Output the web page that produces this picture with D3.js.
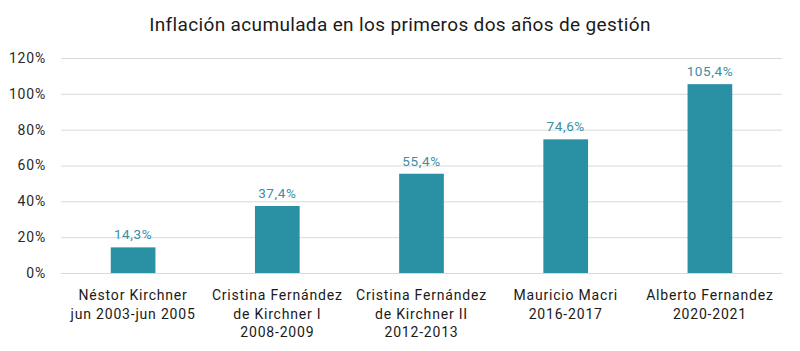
<!DOCTYPE html>
<html><head><meta charset="utf-8">
<script src="https://cdn.jsdelivr.net/npm/d3@7"></script>
<style>body{margin:0;background:#fff;} text{font-family:Roboto, "Liberation Sans", sans-serif;}</style>
</head><body><svg id="c" width="800" height="351"></svg>
<script>
const categories = [
  ["Néstor Kirchner", "jun 2003-jun 2005"],
  ["Cristina Fernández", "de Kirchner I", "2008-2009"],
  ["Cristina Fernández", "de Kirchner II", "2012-2013"],
  ["Mauricio Macri", "2016-2017"],
  ["Alberto Fernandez", "2020-2021"]
];
const values = [14.3, 37.4, 55.4, 74.6, 105.4];
const yTicks = [0, 20, 40, 60, 80, 100, 120];
const title = "Inflación acumulada en los primeros dos años de gestión";

const svg = d3.select("#c");
const m = {left: 61, right: 18, top: 58, bottom: 78};
const W = 800, H = 351;
const x = d3.scaleBand().domain(d3.range(values.length)).range([m.left, W - m.right]).paddingInner(0.69).paddingOuter(0.345);
const y = d3.scaleLinear().domain([0, 120]).range([H - m.bottom, m.top]);

svg.append("text").attr("x", 400).attr("y", 31).attr("text-anchor", "middle")
  .attr("font-size", 19).attr("letter-spacing", 0.35).attr("fill", "#1a1a1a").text(title);

const ya = svg.append("g").attr("transform", `translate(${m.left},0)`)
  .call(d3.axisLeft(y).tickValues(yTicks).tickSize(-(W - m.left - m.right)).tickPadding(15).tickFormat(d => d + "%"));
ya.select(".domain").remove();
ya.selectAll(".tick line").attr("stroke", "#d9d9d9").attr("stroke-width", 1);
ya.selectAll(".tick text").attr("font-size", 14).attr("letter-spacing", 0.8).attr("fill", "#2a2a2a").attr("font-family", "Roboto, sans-serif");

svg.selectAll("rect.bar").data(values).join("rect").attr("class", "bar")
  .attr("x", (d, i) => x(i)).attr("width", x.bandwidth())
  .attr("y", d => y(d)).attr("height", d => y(0) - y(d)).attr("fill", "#2a90a4");

svg.selectAll("text.val").data(values).join("text").attr("class", "val")
  .attr("x", (d, i) => x(i) + x.bandwidth() / 2).attr("y", d => y(d) - 8)
  .attr("text-anchor", "middle").attr("font-size", 13.5).attr("letter-spacing", 0.6).attr("fill", "#3a8ea6")
  .text(d => d.toFixed(1).replace(".", ",") + "%");

const cg = svg.selectAll("g.cat").data(categories).join("g").attr("class", "cat")
  .attr("transform", (d, i) => `translate(${x(i) + x.bandwidth() / 2},${y(0)})`);
cg.selectAll("text").data(d => d).join("text")
  .attr("text-anchor", "middle").attr("y", (d, j) => 27 + j * 18.5)
  .attr("font-size", 14).attr("letter-spacing", 0.8).attr("fill", "#1a1a1a").text(d => d);
</script></body></html>
